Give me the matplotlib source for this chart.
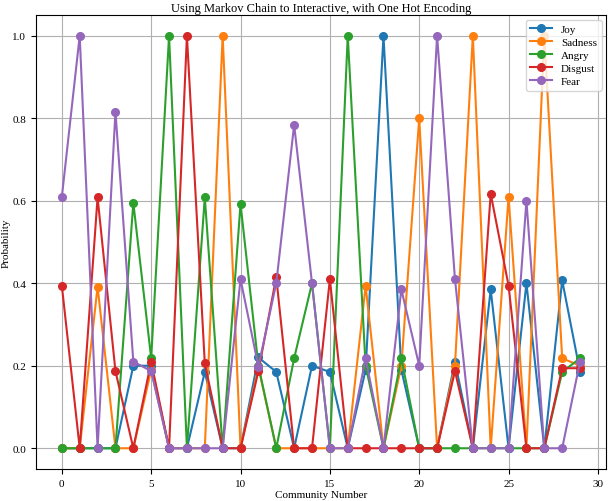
import matplotlib
matplotlib.use("Agg")
import matplotlib.pyplot as plt
import numpy as np

plt.rcParams['font.family'] = ['Liberation Serif', 'DejaVu Serif']

communities = list(range(30))
joy = [0, 0, 0, 0, 0.20, 0.20, 0, 0, 0.185, 0, 0, 0.22, 0.185, 0, 0.20, 0.185, 0, 0.19, 1.0, 0.19,
       0, 0, 0.21, 0, 0.385, 0, 0.40, 0, 0.407, 0.185]
sadness = [0, 0, 0.392, 0, 0, 0.19, 0, 0, 0, 1.0, 0, 0.196, 0, 0, 0, 0, 0, 0.394, 0, 0.20,
           0.80, 0, 0.20, 1.0, 0, 0.609, 0, 1.0, 0.218, 0.20]
angry = [0, 0, 0, 0, 0.595, 0.218, 1.0, 0, 0.608, 0, 0.592, 0.20, 0, 0.218, 0.40, 0, 1.0, 0.20, 0, 0.218,
         0, 0, 0, 0, 0, 0, 0, 0, 0.185, 0.218]
disgust = [0.394, 0, 0.608, 0.187, 0, 0.21, 0, 1.0, 0.206, 0, 0, 0.187, 0.415, 0, 0, 0.41, 0, 0, 0, 0,
           0, 0, 0.187, 0, 0.617, 0.394, 0, 0, 0.194, 0.194]
fear = [0.609, 1.0, 0, 0.816, 0.21, 0.187, 0, 0, 0, 0, 0.41, 0.198, 0.40, 0.784, 0.40, 0, 0, 0.218, 0, 0.385,
        0.20, 1.0, 0.41, 0, 0, 0, 0.60, 0, 0, 0.21]

series = [("Joy", joy), ("Sadness", sadness), ("Angry", angry), ("Disgust", disgust), ("Fear", fear)]

fig = plt.figure(figsize=(6.09, 5.02), dpi=100)
ax = fig.add_axes([0.059, 0.064, 0.936, 0.904])
for name, vals in series:
    ax.plot(communities, vals, marker='o', markersize=5.5, linewidth=1.5, label=name)

ax.grid(True)
ax.set_xticks([0, 5, 10, 15, 20, 25, 30])
ax.set_title("Using Markov Chain to Interactive, with One Hot Encoding", fontsize=9, pad=3)
ax.set_xlabel("Community Number", fontsize=8, labelpad=2)
ax.set_ylabel("Probability", fontsize=8, labelpad=1)
ax.tick_params(labelsize=8)
ax.legend(loc='upper right', fontsize=8, labelspacing=0.3, borderaxespad=0.4)

fig.savefig("out.png", dpi=100)
